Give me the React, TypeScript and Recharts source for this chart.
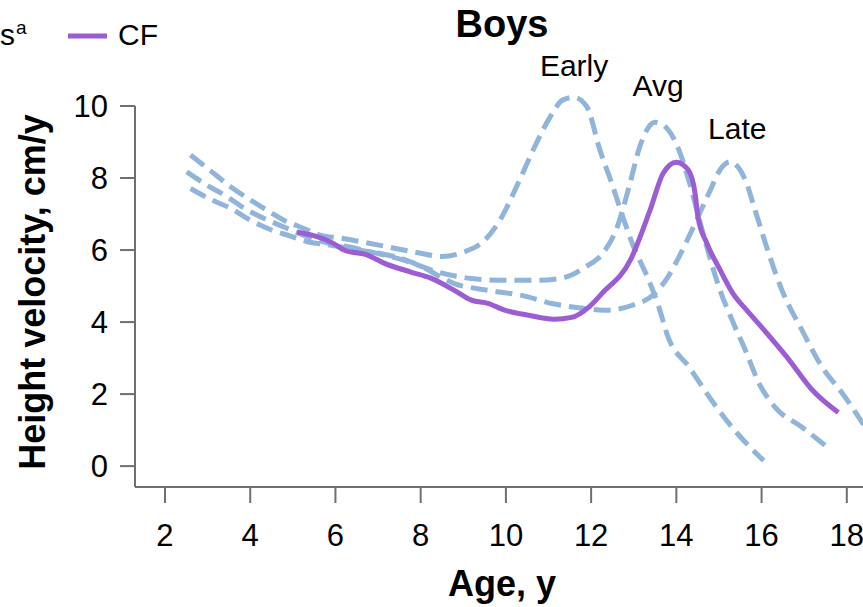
import React from 'react';
import { LineChart, Line, XAxis, YAxis, ReferenceLine, ReferenceDot } from 'recharts';

// reference curves (early / average / late maturers)
const earlyAge = [2.6, 3.1, 3.54, 4.32, 4.79, 5.26, 5.66, 6.13, 6.6, 7.22, 8.0, 8.48, 9.0, 9.5, 9.86, 10.25, 10.64, 11.04, 11.34, 11.6, 11.9, 12.2, 12.5, 12.75, 13.0, 13.35, 13.58, 13.8, 14.3, 14.83, 15.37, 16.05];
const earlyVel = [8.64, 8.17, 7.76, 7.16, 6.83, 6.6, 6.41, 6.33, 6.23, 6.09, 5.91, 5.82, 5.94, 6.27, 6.83, 7.76, 8.78, 9.7, 10.17, 10.24, 9.98, 8.8, 7.8, 6.9, 6.08, 5.17, 4.45, 3.6, 2.75, 1.82, 0.99, 0.15];

const avgAge = [2.51, 2.99, 3.46, 3.93, 4.32, 4.79, 5.26, 5.81, 6.44, 6.83, 7.6, 8.4, 9.19, 9.97, 10.76, 11.38, 11.85, 12.3, 12.6, 12.9, 13.15, 13.5, 13.8, 14.0, 14.3, 14.55, 14.76, 15.0, 15.31, 15.62, 15.94, 16.32, 16.95, 17.58];
const avgVel = [8.17, 7.8, 7.48, 7.11, 6.88, 6.64, 6.41, 6.2, 6.06, 5.95, 5.72, 5.39, 5.21, 5.16, 5.16, 5.24, 5.52, 5.95, 6.6, 7.8, 8.9, 9.55, 9.35, 8.95, 7.9, 6.8, 5.9, 4.97, 4.05, 3.22, 2.3, 1.63, 1.08, 0.49];

const lateAge = [2.6, 3.1, 3.54, 4.0, 4.47, 4.94, 5.34, 5.81, 6.44, 7.07, 7.53, 8.0, 8.79, 9.58, 10.37, 11.14, 11.7, 12.32, 12.95, 13.5, 13.8, 14.1, 14.44, 14.76, 15.07, 15.25, 15.62, 15.85, 16.17, 16.48, 16.95, 17.42, 17.89, 18.45];
const lateVel = [7.71, 7.39, 7.16, 6.83, 6.57, 6.39, 6.23, 6.15, 6.02, 5.9, 5.77, 5.55, 5.07, 4.88, 4.74, 4.5, 4.4, 4.33, 4.46, 4.8, 5.25, 5.9, 6.74, 7.57, 8.3, 8.45, 7.94, 7.1, 5.9, 4.88, 3.77, 2.75, 2.03, 1.05];

// CF patients
const cfAge = [5.1, 5.96, 6.2, 6.75, 7.15, 7.77, 8.24, 8.79, 9.19, 9.58, 9.97, 10.53, 11.14, 11.54, 11.94, 12.25, 12.92, 13.38, 13.69, 14.0, 14.28, 14.44, 14.51, 14.72, 15.03, 15.33, 15.66, 16.0, 16.6, 17.2, 17.8];
const cfVel = [6.5, 6.18, 6.0, 5.86, 5.63, 5.39, 5.22, 4.88, 4.61, 4.52, 4.33, 4.19, 4.08, 4.13, 4.41, 4.79, 5.72, 7.1, 8.13, 8.44, 8.22, 7.57, 6.9, 6.18, 5.44, 4.79, 4.32, 3.86, 3.02, 2.1, 1.49];

const ageTicks = [2, 4, 6, 8, 10, 12, 14, 16, 18];
const velTicks = [0, 2, 4, 6, 8, 10];

const peakLabels = [
  { name: 'Early', age: 11.6, vel: 11.14 },
  { name: 'Avg', age: 13.57, vel: 10.56 },
  { name: 'Late', age: 15.43, vel: 9.39 },
];

const toPoints = (ages: number[], vels: number[]) => ages.map((a, i) => ({ age: a, v: vels[i] }));

const earlyData = toPoints(earlyAge, earlyVel);
const avgData = toPoints(avgAge, avgVel);
const lateData = toPoints(lateAge, lateVel);
const cfData = toPoints(cfAge, cfVel);

const REF = '#91B4DA';
const CF = '#9B5CD4';
const AXIS = '#6f6f6f';
const X_MIN = 1.296;
const Y_MIN = -0.58;
const TICK_FONT = 31;

const XTick = (props: any) => {
  const { x, y, payload } = props;
  return (
    <text x={x} y={y} dy="0.71em" textAnchor="middle" fontSize={TICK_FONT} fill="#000">
      {payload.value}
    </text>
  );
};

const YTick = (props: any) => {
  const { x, y, payload } = props;
  return (
    <text x={x} y={y} dy="0.36em" textAnchor="end" fontSize={TICK_FONT} fill="#000">
      {payload.value}
    </text>
  );
};

const App: React.FC = () => {
  return (
    <div
      style={{
        position: 'absolute',
        left: 0,
        top: 0,
        width: 863,
        height: 607,
        overflow: 'hidden',
        background: '#fff',
        fontFamily: '"Liberation Sans", Arial, sans-serif',
      }}
    >
      <LineChart width={863} height={607} margin={{ top: 88, right: 0, bottom: 0, left: 0 }}>
        <XAxis
          dataKey="age"
          type="number"
          domain={[X_MIN, 18.38]}
          allowDataOverflow
          ticks={ageTicks}
          height={120}
          stroke={AXIS}
          strokeWidth={2}
          tickSize={16}
          tickMargin={21}
          tick={<XTick />}
          tickLine={{ stroke: AXIS, strokeWidth: 2 }}
        />
        <YAxis
          type="number"
          domain={[Y_MIN, 10.5]}
          allowDataOverflow
          ticks={velTicks}
          width={135}
          axisLine={false}
          tickSize={15}
          tickMargin={12}
          tick={<YTick />}
          tickLine={{ stroke: AXIS, strokeWidth: 2 }}
        />
        <ReferenceLine
          segment={[{ x: X_MIN, y: Y_MIN }, { x: X_MIN, y: 10 }]}
          stroke={AXIS}
          strokeWidth={2}
        />
        <Line data={earlyData} dataKey="v" type="monotone" stroke={REF} strokeWidth={5} strokeDasharray="17 8" dot={false} isAnimationActive={false} />
        <Line data={avgData} dataKey="v" type="monotone" stroke={REF} strokeWidth={5} strokeDasharray="17 8" dot={false} isAnimationActive={false} />
        <Line data={lateData} dataKey="v" type="monotone" stroke={REF} strokeWidth={5} strokeDasharray="17 8" dot={false} isAnimationActive={false} />
        <Line data={cfData} dataKey="v" type="monotone" stroke={CF} strokeWidth={5} dot={false} isAnimationActive={false} />
        {peakLabels.map((p) => (
          <ReferenceDot
            key={p.name}
            x={p.age}
            y={p.vel}
            r={0}
            fill="none"
            stroke="none"
            ifOverflow="visible"
            label={{ value: p.name, position: 'center', fontSize: 30, fill: '#000' }}
          />
        ))}
      </LineChart>

      {/* title, axis titles and the (cropped) legend */}
      <svg width={863} height={607} style={{ position: 'absolute', left: 0, top: 0, pointerEvents: 'none' }}>
        <text x={502} y={37} textAnchor="middle" fontSize={38} fontWeight="bold" fill="#000">Boys</text>
        <text transform="translate(45,292) rotate(-90)" textAnchor="middle" fontSize={36} fontWeight="bold" fill="#000">
          Height velocity, cm/y
        </text>
        <text x={502} y={596} textAnchor="middle" fontSize={36} fontWeight="bold" fill="#000">Age, y</text>

        <line x1={-270} x2={-230} y1={36} y2={36} stroke={REF} strokeWidth={5} strokeDasharray="12 6" />
        <text x={15} y={45} textAnchor="end" fontSize={30} fill="#000">Reference values</text>
        <text x={16} y={34} fontSize={19} fill="#000">a</text>

        <line x1={68} x2={107} y1={36} y2={36} stroke={CF} strokeWidth={5} />
        <text x={118} y={45} fontSize={30} fill="#000">CF</text>
      </svg>
    </div>
  );
};

export default App;
